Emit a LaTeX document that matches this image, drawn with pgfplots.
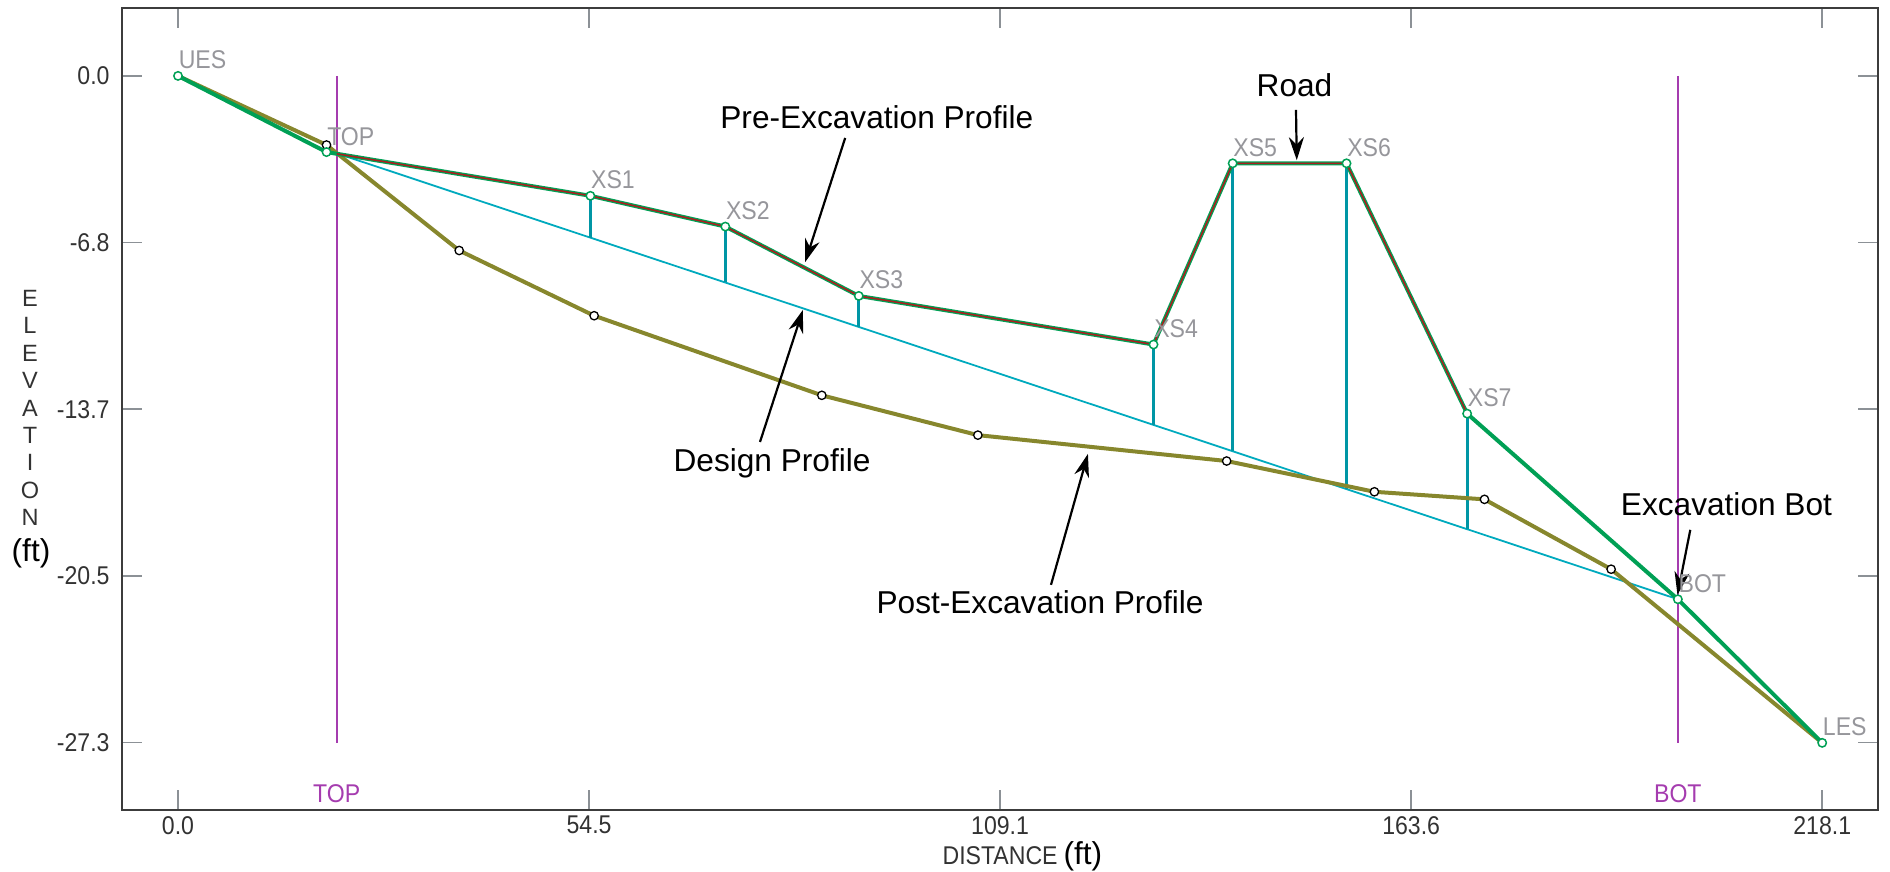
\documentclass[border=0pt]{standalone}
\usepackage{pgfplots}
\pgfplotsset{compat=1.18}
\usepackage{fontspec}
\setmainfont{Liberation Sans}
\newfontfamily\narrowfont[FakeStretch=0.9]{Liberation Sans}
\usetikzlibrary{arrows.meta}
\definecolor{pgreen}{RGB}{0,160,85}
\definecolor{pred}{RGB}{170,30,30}
\definecolor{polive}{RGB}{135,135,45}
\definecolor{dcyan}{RGB}{0,170,190}
\definecolor{vteal}{RGB}{0,150,165}
\definecolor{pmag}{RGB}{165,60,175}
\definecolor{lgray}{RGB}{150,150,155}
\definecolor{axgray}{RGB}{60,60,60}
\definecolor{tkgray}{RGB}{140,145,150}
\definecolor{lbdark}{RGB}{50,50,50}
\newcommand{\tfont}{\narrowfont\fontsize{7.3}{8}\selectfont}
\newcommand{\afont}{\fontsize{9}{10}\selectfont}
\begin{document}
\begin{tikzpicture}
\begin{axis}[
  scale only axis, width=175.6mm, height=80.2mm,
  xmin=-7.43, xmax=225.5, ymin=-30.06, ymax=2.78,
  axis line style={draw=axgray, line width=0.25mm},
  xtick={0,54.525,109.05,163.575,218.1},
  xticklabels={0.0,54.5,109.1,163.6,218.1},
  ytick={-27.3,-20.475,-13.65,-6.825,0},
  yticklabels={-27.3,-20.5,-13.7,-6.8,0.0},
  major tick length=2mm,
  tick style={draw=tkgray, line width=0.15mm},
  ticklabel style={font=\tfont, text=lbdark},
  xticklabel style={inner sep=0pt, yshift=-0.55mm},
  clip=false,
]
% station lines
\addplot[pmag, line width=0.18mm] coordinates {(21.05,0) (21.05,-27.3)};
\addplot[pmag, line width=0.18mm] coordinates {(198.95,0) (198.95,-27.3)};
% design profile
\addplot[dcyan, line width=0.18mm] coordinates {(21.05,-3.17) (198.95,-21.43)};
% vertical drops
\addplot[vteal, line width=0.3mm] coordinates {(54.7,-4.91) (54.7,-6.62)};
\addplot[vteal, line width=0.3mm] coordinates {(72.6,-6.17) (72.6,-8.46)};
\addplot[vteal, line width=0.3mm] coordinates {(90.3,-9.01) (90.3,-10.28)};
\addplot[vteal, line width=0.3mm] coordinates {(129.4,-11.0) (129.4,-14.29)};
\addplot[vteal, line width=0.3mm] coordinates {(139.9,-3.58) (139.9,-15.37)};
\addplot[vteal, line width=0.3mm] coordinates {(155.0,-3.58) (155.0,-16.92)};
\addplot[vteal, line width=0.3mm] coordinates {(171.0,-13.83) (171.0,-18.56)};
% post-excavation profile
\addplot[polive, line width=0.4mm, mark=*, mark size=0.42mm,
  mark indices={2,3,4,5,6,7,8,9,10},
  mark options={draw=black, fill=white, line width=0.13mm}] coordinates {
  (0,0) (19.7,-2.83) (37.3,-7.15) (55.2,-9.82) (85.4,-13.08) (106.1,-14.71)
  (139.1,-15.77) (158.7,-17.03) (173.3,-17.34) (190.1,-20.2) (218.1,-27.31)};
% pre-excavation profile
\addplot[pgreen, line width=0.4mm] coordinates {
  (0,0) (19.7,-3.12) (54.7,-4.91) (72.6,-6.17) (90.3,-9.01) (129.4,-11.0)
  (139.9,-3.58) (155.0,-3.58) (171.0,-13.83) (198.95,-21.43) (218.1,-27.31)};
\addplot[pred, line width=0.15mm] coordinates {
  (21.05,-3.19) (54.7,-4.91) (72.6,-6.17) (90.3,-9.01) (129.4,-11.0)
  (139.9,-3.58) (155.0,-3.58) (171.0,-13.83)};
\addplot[only marks, mark=*, mark size=0.42mm,
  mark options={draw=pgreen, fill=white, line width=0.15mm},
  nodes near coords, point meta=explicit symbolic,
  nodes near coords style={anchor=south west, font=\tfont, text=lgray, inner sep=0pt, yshift=0.6mm}]
  table[row sep=\\, meta=label] {
  x y label\\
  0 0 UES\\
  19.7 -3.12 TOP\\
  54.7 -4.91 XS1\\
  72.6 -6.17 XS2\\
  90.3 -9.01 XS3\\
  129.4 -11.0 XS4\\
  139.9 -3.58 XS5\\
  155.0 -3.58 XS6\\
  171.0 -13.83 XS7\\
  198.95 -21.43 BOT\\
  218.1 -27.31 LES\\
};
% station labels
\node[font=\tfont, text=pmag] at (axis cs:21.05,-29.4) {TOP};
\node[font=\tfont, text=pmag] at (axis cs:198.95,-29.4) {BOT};
% axis labels
\node[font=\fontsize{6.7}{7.8}\selectfont, text=lbdark, align=center, inner sep=0pt] at (axis cs:-19.63,-13.6) {E\\L\\E\\V\\A\\T\\I\\O\\N};
\node[font=\afont, inner sep=0pt] at (axis cs:-19.5,-19.54) {(ft)};
\node[anchor=base, font=\tfont, text=lbdark, inner sep=0pt] (dist) at (axis cs:109.05,-32.3) {DISTANCE};
\node[anchor=base west, font=\afont, inner sep=0pt, xshift=0.45mm] at (dist.base east) {(ft)};
% annotations
\tikzset{ann/.style={-{Stealth[length=2.3mm,width=1.5mm]}, line width=0.22mm, black}}
\node[anchor=base, font=\afont] at (axis cs:92.7,-2.17) {Pre-Excavation Profile};
\draw[ann] (axis cs:88.5,-2.54) -- (axis cs:83.2,-7.62);
\node[anchor=base, font=\afont] at (axis cs:148.1,-0.86) {Road};
\draw[ann] (axis cs:148.3,-1.39) -- (axis cs:148.4,-3.45);
\node[anchor=base, font=\afont] at (axis cs:78.8,-16.18) {Design Profile};
\draw[ann] (axis cs:77.2,-14.99) -- (axis cs:82.9,-9.58);
\node[anchor=base, font=\afont] at (axis cs:114.35,-22.03) {Post-Excavation Profile};
\draw[ann] (axis cs:115.8,-20.84) -- (axis cs:120.7,-15.48);
\node[anchor=base, font=\afont] at (axis cs:205.4,-18.02) {Excavation Bot};
\draw[ann] (axis cs:200.6,-18.59) -- (axis cs:198.9,-21.25);
\end{axis}
\pgfresetboundingbox
\useasboundingbox (-12.2mm,-6.1mm) rectangle (176.8mm,81.0mm);
\end{tikzpicture}
\end{document}
